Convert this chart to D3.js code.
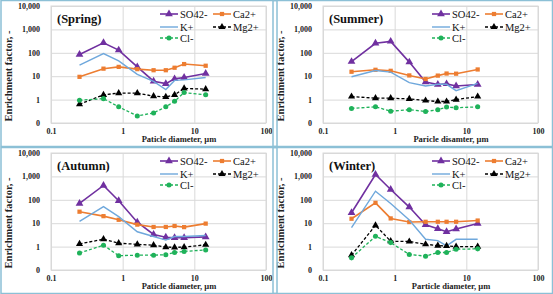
<!DOCTYPE html>
<html>
<head>
<meta charset="utf-8">
<script src="https://cdn.jsdelivr.net/npm/d3@7"></script>
<style>
  body { margin: 0; background: #fff; }
  svg { display: block; font-family: "Liberation Serif", "Times New Roman", serif; }
</style>
</head>
<body>
<div id="chart"></div>
<script>
// particle diameters (um), shared by all seasons
const diameters = [0.25, 0.54, 0.88, 1.6, 2.7, 4.0, 5.3, 7.2, 14.4];

// ion order: SO42-, Ca2+, K+, Mg2+, Cl-
const ions = ["SO42-", "Ca2+", "K+", "Mg2+", "Cl-"];

const springValues = [
  [85, 268, 130, 25, 6.1, 4.8, 7.7, 8.8, 13],
  [9.4, 21, 25, 20, 18, 18, 23, 33, 28],
  [30, 93, 45, 12, 6, 2.7, 6.6, 7, 8.8],
  [0.63, 1.6, 1.9, 1.9, 1.4, 1.3, 1.6, 3.0, 2.8],
  [0.94, 1.1, 0.49, 0.2, 0.27, 0.49, 0.85, 2.0, 1.6]
];
const summerValues = [
  [42, 254, 308, 40, 5.6, 4.4, 4.7, 3.8, 4.4],
  [15.5, 18.8, 17, 10.8, 7.6, 10.6, 13, 12.8, 19.4],
  [9.5, 17.6, 15, 5.3, 3.8, 4.5, 4.5, 2.4, 4.9],
  [1.35, 1.15, 1.15, 1.07, 0.91, 0.83, 0.83, 1.0, 1.35],
  [0.42, 0.49, 0.32, 0.37, 0.31, 0.37, 0.48, 0.45, 0.49]
];
const autumnValues = [
  [70, 410, 91, 11, 3.3, 2.5, 2.4, 2.4, 2.6],
  [31, 20, 14, 8.7, 6.9, 6.9, 7.6, 6.8, 9.6],
  [12, 51, 19, 4.3, 2.7, 1.9, 2.7, 2.7, 3.0],
  [1.3, 2.07, 1.4, 1.25, 1.15, 0.95, 0.93, 0.95, 1.2],
  [0.53, 1.15, 0.41, 0.43, 0.43, 0.45, 0.56, 0.62, 0.72]
];
const winterValues = [
  [28, 1200, 275, 49, 8.6, 5.8, 4.3, 5.6, 9.8],
  [15.5, 74, 16, 11.2, 11.5, 11.5, 11.5, 11.5, 13],
  [6.4, 234, 70, 13.6, 2.05, 1.8, 1.07, 2.05, 2.05],
  [0.43, 8.1, 1.7, 1.65, 1.26, 1.1, 1.07, 1.0, 1.0],
  [0.33, 2.75, 1.48, 0.46, 0.39, 0.56, 0.56, 0.77, 0.8]
];

const panelTitles = ["(Spring)", "(Summer)", "(Autumn)", "(Winter)"];
const xTitles = ["Paticle diameter, \u00b5m", "Paricle disamter, \u00b5m",
                 "Paticle diameter, \u00b5m", "Particle diameter, \u00b5m"];

const xTicks = [0.1, 1, 10, 100];
const xTickLabels = ["0.1", "1", "10", "100"];
const yTicks = [0.1, 1, 10, 100, 1000, 10000];
const yTickLabels = ["0", "1", "10", "100", "1,000", "10,000"];

// styling per ion
const ionStyle = [
  {color: "#7030a0", dash: null, symbol: d3.symbolTriangle, size: 26, width: 1.6},
  {color: "#ed7d31", dash: null, symbol: d3.symbolSquare, size: 18, width: 1.6},
  {color: "#6fa8dc", dash: null, symbol: null, size: 0, width: 1.4},
  {color: "#000000", dash: "3,2", symbol: d3.symbolTriangle, size: 22, width: 1.3},
  {color: "#1fb25a", dash: "3,2", symbol: d3.symbolCircle, size: 20, width: 1.3}
];

const W = 553, H = 294;
const panelW = 272, panelH = 147;
const margin = {top: 6, left: 51};
const plotW = 215, plotH = 117;

const svg = d3.select("#chart").append("svg")
  .attr("width", W).attr("height", H);

svg.append("rect").attr("width", W).attr("height", H).attr("fill", "#fff");

const allValues = [springValues, summerValues, autumnValues, winterValues];

allValues.forEach((values, i) => {
  const ox = (i % 2) * panelW;
  const oy = Math.floor(i / 2) * panelH;
  drawPanel(svg, ox, oy, values, panelTitles[i], xTitles[i]);
});

// light blue borders round each panel
[[0, 0], [panelW, 0], [0, panelH], [panelW, panelH]].forEach(([px, py]) => {
  svg.append("rect")
    .attr("x", px + 1).attr("y", py + 0.5)
    .attr("width", (px ? W - px - 1.5 : panelW + 4))
    .attr("height", (py ? H - py - 1 : panelH - 1))
    .attr("fill", "none")
    .attr("stroke", "#8cc0d6")
    .attr("stroke-width", 1.5);
});

function drawPanel(root, ox, oy, values, title, xTitle) {
  const g = root.append("g")
    .attr("transform", `translate(${ox + margin.left},${oy + margin.top})`);

  const x = d3.scaleLog().domain([0.1, 100]).range([0, plotW]);
  const y = d3.scaleLog().domain([0.1, 10000]).range([plotH, 0]);

  // gridlines
  g.append("g")
    .call(d3.axisLeft(y).tickValues(yTicks).tickSize(-plotW).tickFormat(""))
    .call(a => a.select(".domain").remove())
    .selectAll("line").attr("stroke", "#d9d9d9");
  g.append("g")
    .attr("transform", `translate(0,${plotH})`)
    .call(d3.axisBottom(x).tickValues(xTicks).tickSize(-plotH).tickFormat(""))
    .call(a => a.select(".domain").remove())
    .selectAll("line").attr("stroke", "#d9d9d9");

  g.append("rect")
    .attr("width", plotW).attr("height", plotH)
    .attr("fill", "none").attr("stroke", "#d9d9d9");

  // tick labels
  g.append("g")
    .call(d3.axisLeft(y).tickValues(yTicks).tickSize(0).tickPadding(11)
      .tickFormat((d, k) => yTickLabels[k]))
    .call(a => a.select(".domain").remove())
    .selectAll("text")
    .attr("font-family", "Liberation Serif").attr("font-weight", "bold")
    .attr("font-size", 8).attr("fill", "#222");

  g.append("g")
    .attr("transform", `translate(0,${plotH})`)
    .call(d3.axisBottom(x).tickValues(xTicks).tickSize(0).tickPadding(5)
      .tickFormat((d, k) => xTickLabels[k]))
    .call(a => a.select(".domain").remove())
    .selectAll("text")
    .attr("font-family", "Liberation Serif").attr("font-weight", "bold")
    .attr("font-size", 8).attr("fill", "#222");

  // axis titles
  g.append("text")
    .attr("x", 128).attr("y", plotH + 19)
    .attr("text-anchor", "middle")
    .attr("font-weight", "bold").attr("font-size", 8.5).attr("fill", "#222")
    .text(xTitle);

  g.append("text")
    .attr("transform", `translate(-39,${70}) rotate(-90)`)
    .attr("text-anchor", "middle")
    .attr("font-weight", "bold").attr("font-size", 10.5).attr("fill", "#222")
    .text("Enrichment factor, -");

  g.append("text")
    .attr("x", 6).attr("y", 17)
    .attr("font-weight", "bold").attr("font-size", 12.5).attr("fill", "#111")
    .text(title);

  // series
  const line = d3.line()
    .x((d, k) => x(diameters[k]))
    .y(d => y(d));

  values.forEach((series, s) => {
    const st = ionStyle[s];
    g.append("path")
      .datum(series)
      .attr("fill", "none")
      .attr("stroke", st.color)
      .attr("stroke-width", st.width)
      .attr("stroke-dasharray", st.dash)
      .attr("d", line);
    if (st.symbol) {
      g.selectAll(null)
        .data(series)
        .enter()
        .append("path")
        .attr("transform", (d, k) => `translate(${x(diameters[k])},${y(d)})`)
        .attr("d", d3.symbol().type(st.symbol).size(st.size))
        .attr("fill", st.color);
    }
  });

  // legend
  const legendPos = [[109, 8], [162, 8], [109, 21], [162, 21], [109, 32]];
  ions.forEach((name, s) => {
    const st = ionStyle[s];
    const [lx, ly] = legendPos[s];
    const lg = g.append("g").attr("transform", `translate(${lx},${ly})`);
    lg.append("line")
      .attr("x1", 0).attr("x2", 18)
      .attr("stroke", st.color).attr("stroke-width", st.width)
      .attr("stroke-dasharray", st.dash);
    if (st.symbol) {
      lg.append("path")
        .attr("transform", "translate(9,0)")
        .attr("d", d3.symbol().type(st.symbol).size(st.size))
        .attr("fill", st.color);
    }
    lg.append("text")
      .attr("x", 20).attr("y", 3.5)
      .attr("font-size", 10.5).attr("fill", "#111")
      .text(name);
  });
}
</script>
</body>
</html>
